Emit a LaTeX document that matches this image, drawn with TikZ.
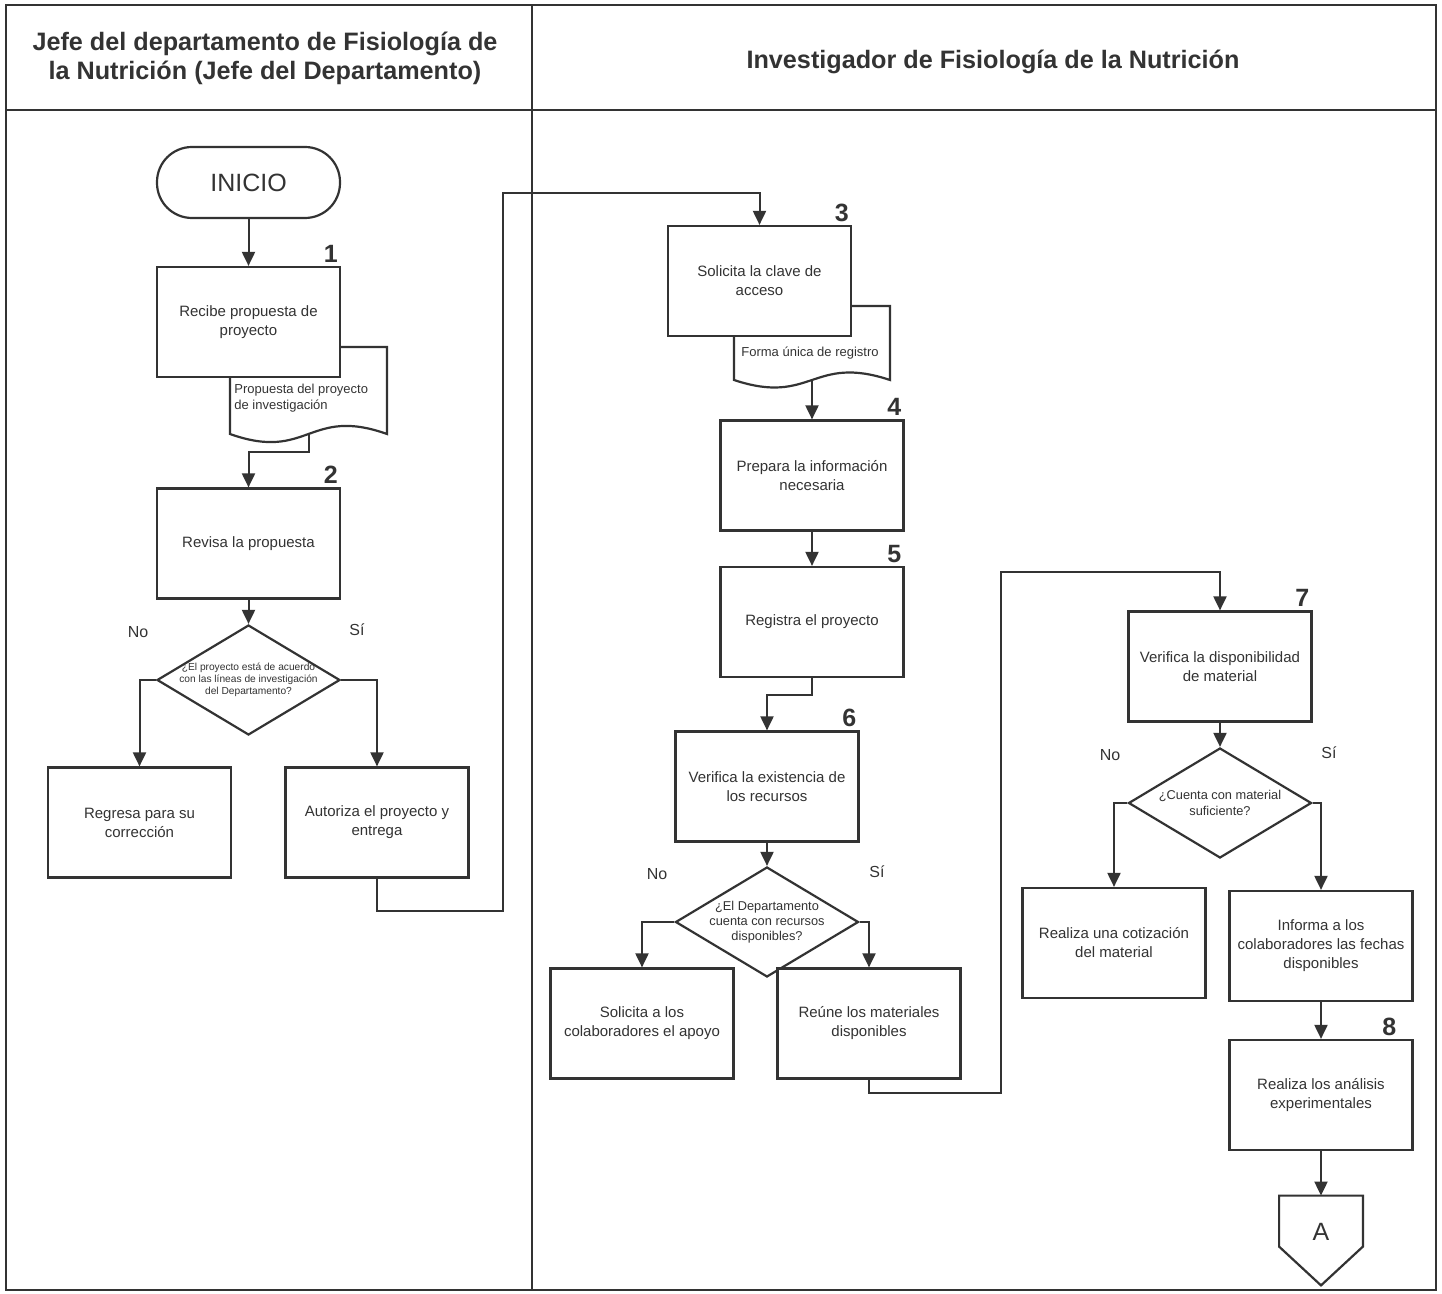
\documentclass[tikz,border=0pt]{standalone}
\usepackage{fontspec}
\setmainfont{Liberation Sans}
\usepackage{tikz}
\usetikzlibrary{arrows.meta,shapes.geometric}
\definecolor{ink}{HTML}{333333}
\newcommand{\boxfont}{\fontsize{7.5}{9.5}\selectfont}
\tikzset{
  box/.style={draw=ink, line width=1.1pt, rectangle, fill=white, minimum width=91.5pt, minimum height=55pt, align=center, font=\boxfont, inner sep=2pt, text=ink},
  term/.style={box, rounded corners=17.5pt, minimum height=35.5pt, font=\fontsize{12.5}{14}\selectfont},
  dec/.style={box, diamond, aspect=1.66, inner sep=-4pt, font=\fontsize{6.4}{7.6}\selectfont},
  doc/.style={minimum width=78.5pt, inner sep=0pt, outer sep=0pt},
  doctext/.style={font=\fontsize{6.5}{8}\selectfont, align=left, inner sep=1pt, text=ink},
  num/.style={font=\fontsize{12.5}{14}\selectfont\bfseries, anchor=south east, inner sep=1.5pt, text=ink},
  ans/.style={font=\fontsize{8}{9}\selectfont, text=ink},
  head/.style={font=\fontsize{12.6}{14.5}\selectfont\bfseries, align=center, text=ink},
  outl/.style={draw=ink, line width=1.1pt},
  lane/.style={draw=ink, line width=1.3pt},
  arr/.style={-{Triangle[length=7pt, width=6.5pt]}, line width=1pt, draw=ink}
}

\begin{document}
\begin{tikzpicture}[x=0.5pt, y=-0.5pt]
\useasboundingbox (0,0) rectangle (1442,1294);
% swimlanes
\draw[lane] (6,5) rectangle (1436,1290);
\draw[lane] (6,110) -- (1436,110);
\draw[lane] (532,5) -- (532,1290);
\node[head] (hjefe) at (265,58) {Jefe del departamento de Fisiología de\\la Nutrición (Jefe del Departamento)};
\node[head] (hinv) at (993,62) {Investigador de Fisiología de la Nutrición};

% jefe del departamento
\node[term] (ini) at (248.5,182.5) {INICIO};
\node[doc, minimum height=43.5pt] (d1) at (308.5,390.5) {};
\draw[outl] (d1.north west) -- (d1.north east) -- (d1.south east) .. controls ([yshift=14pt]d1.south) and ([yshift=-14pt]d1.south) .. (d1.south west) -- cycle;
\node[doctext, anchor=west] (d1t) at (232,398) {Propuesta del proyecto\\de investigación};
\node[box] (b1) at (248.5,322) {Recibe propuesta de\\proyecto};
\node[num] (n1) at (b1.north east) {1};
\node[box] (b2) at (248.5,543.5) {Revisa la propuesta};
\node[num] (n2) at (b2.north east) {2};
\node[dec, font=\fontsize{5.1}{6}\selectfont] (dd1) at (248.5,680) {¿El proyecto está de acuerdo\\con las líneas de investigación\\del Departamento?};
\node[ans] (no1) at (138,632) {No};
\node[ans] (si1) at (357,630) {Sí};
\node[box] (reg) at (139.5,822.5) {Regresa para su\\corrección};
\node[box] (aut) at (377,822.5) {Autoriza el proyecto y\\entrega};
\coordinate (r1) at (503,911);
\coordinate (r2) at (503,193);

% investigador
\node[doc, minimum width=78pt, minimum height=37pt] (d2) at (812,343) {};
\draw[outl] (d2.north west) -- (d2.north east) -- (d2.south east) .. controls ([yshift=13pt]d2.south) and ([yshift=-13pt]d2.south) .. (d2.south west) -- cycle;
\node[doctext, anchor=west] (d2t) at (739,353) {Forma única de registro};
\node[box] (b3) at (759.5,281) {Solicita la clave de\\acceso};
\node[num] (n3) at (b3.north east) {3};
\node[box] (b4) at (812,475.5) {Prepara la información\\necesaria};
\node[num] (n4) at (b4.north east) {4};
\node[box] (b5) at (812,622) {Registra el proyecto};
\node[num] (n5) at (b5.north east) {5};
\node[box] (b6) at (767,786.5) {Verifica la existencia de\\los recursos};
\node[num] (n6) at (b6.north east) {6};
\node[dec] (dd2) at (767,922) {¿El Departamento\\cuenta con recursos\\disponibles?};
\node[ans] (no2) at (657,874) {No};
\node[ans] (si2) at (877,872) {Sí};
\node[box] (sol) at (642,1023.5) {Solicita a los\\colaboradores el apoyo};
\node[box] (reu) at (869,1023.5) {Reúne los materiales\\disponibles};
\coordinate (r3) at (1001,1093);
\coordinate (r4) at (1001,572);
\node[box] (b7) at (1220,666.5) {Verifica la disponibilidad\\de material};
\node[num] (n7) at (b7.north east) {7};
\node[dec] (dd3) at (1220,803) {¿Cuenta con material\\suficiente?};
\node[ans] (no3) at (1110,755) {No};
\node[ans] (si3) at (1329,753) {Sí};
\node[box] (cot) at (1114,943) {Realiza una cotización\\del material};
\node[box] (inf) at (1321,946) {Informa a los\\colaboradores las fechas\\disponibles};
\node[box] (b8) at (1321,1095) {Realiza los análisis\\experimentales};
\node[num] (n8) at ([xshift=-7pt]b8.north east) {8};
\node[font=\fontsize{12.5}{14}\selectfont, text=ink, minimum width=41.5pt, minimum height=36pt, inner sep=0pt] (conA) at (1321,1232) {A};
\draw[outl] (conA.north west) -- (conA.north east) -- ([yshift=-25.5pt]conA.north east) -- ([yshift=-8.5pt]conA.south) -- ([yshift=-25.5pt]conA.north west) -- cycle;

% connectors
\draw[arr] (ini) -- (b1);
\draw[arr] (d1.south) -- ++(0,18) -| (b2.north);
\draw[arr] (b2) -- (dd1);
\draw[arr] (dd1.west) -| (reg.north);
\draw[arr] (dd1.east) -| (aut.north);
\draw[arr] (aut.south) |- (r1) -- (r2) -| (b3.north);
\draw[arr] (d2.south) -- (b4.north);
\draw[arr] (b4) -- (b5);
\draw[arr] (b5.south) -- ++(0,17) -| (b6.north);
\draw[arr] (b6) -- (dd2);
\draw[arr] (dd2.west) -| (sol.north);
\draw[arr] (dd2.east) -| (reu.north);
\draw[arr] (reu.south) |- (r3) -- (r4) -| (b7.north);
\draw[arr] (b7) -- (dd3);
\draw[arr] (dd3.west) -| (cot.north);
\draw[arr] (dd3.east) -| (inf.north);
\draw[arr] (inf) -- (b8);
\draw[arr] (b8) -- (conA);
\end{tikzpicture}
\end{document}
